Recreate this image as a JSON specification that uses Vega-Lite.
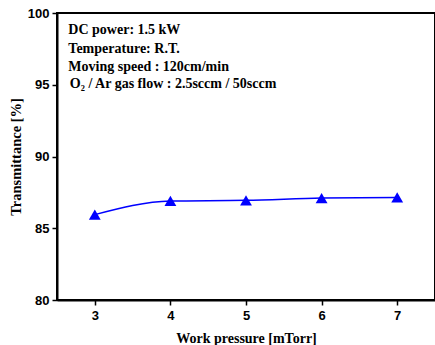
{
  "$schema": "https://vega.github.io/schema/vega-lite/v6.json",
  "autosize": {"type": "none"},
  "padding": {"left": 57, "top": 13, "right": 0, "bottom": 45},
  "width": 378,
  "height": 287,
  "background": "white",
  "config": {
    "view": {"stroke": "black", "strokeWidth": 2},
    "axis": {
      "grid": false,
      "domainColor": "black",
      "domainWidth": 2,
      "tickColor": "black",
      "tickWidth": 1.5,
      "tickSize": 5,
      "labelFont": "Liberation Sans",
      "labelFontWeight": "bold",
      "labelFontSize": 13,
      "labelColor": "black",
      "titleFont": "Liberation Serif",
      "titleFontWeight": "bold",
      "titleColor": "black"
    }
  },
  "datasets": {
    "pts": [
      {"p": 3, "t": 85.95},
      {"p": 4, "t": 86.9},
      {"p": 5, "t": 86.95},
      {"p": 6, "t": 87.1},
      {"p": 7, "t": 87.15}
    ],
    "notes": [
      {"x": 2.65, "y": 98.82, "label": "DC power: 1.5 kW"},
      {"x": 2.65, "y": 97.5, "label": "Temperature: R.T."},
      {"x": 2.65, "y": 96.22, "label": "Moving speed : 120cm/min"},
      {"x": 2.67, "y": 95.05, "label": "O₂ / Ar gas flow : 2.5sccm / 50sccm"}
    ]
  },
  "layer": [
    {
      "data": {"name": "pts"},
      "mark": {"type": "line", "interpolate": "monotone", "color": "#0000ff", "strokeWidth": 1.5},
      "encoding": {
        "x": {"field": "p", "type": "quantitative", "scale": {"domain": [2.5, 7.5], "nice": false}, "axis": {"values": [3, 4, 5, 6, 7], "format": "d", "title": "Work pressure [mTorr]", "titleFontSize": 14, "labelPadding": 4, "titlePadding": 9}},
        "y": {"field": "t", "type": "quantitative", "scale": {"domain": [80, 100], "nice": false, "zero": false}, "axis": {"values": [80, 85, 90, 95, 100], "title": "Transmittance [%]", "titleFontSize": 14.5, "labelPadding": 3, "titlePadding": 4}}
      }
    },
    {
      "data": {"name": "pts"},
      "mark": {"type": "point", "shape": "triangle-up", "filled": true, "color": "#0000ff", "size": 140, "opacity": 1},
      "encoding": {
        "x": {"field": "p", "type": "quantitative"},
        "y": {"field": "t", "type": "quantitative"}
      }
    },
    {
      "data": {"name": "notes"},
      "mark": {"type": "text", "align": "left", "baseline": "middle", "font": "Liberation Serif", "fontWeight": "bold", "fontSize": 14, "color": "black"},
      "encoding": {
        "x": {"field": "x", "type": "quantitative"},
        "y": {"field": "y", "type": "quantitative"},
        "text": {"field": "label"}
      }
    }
  ]
}
